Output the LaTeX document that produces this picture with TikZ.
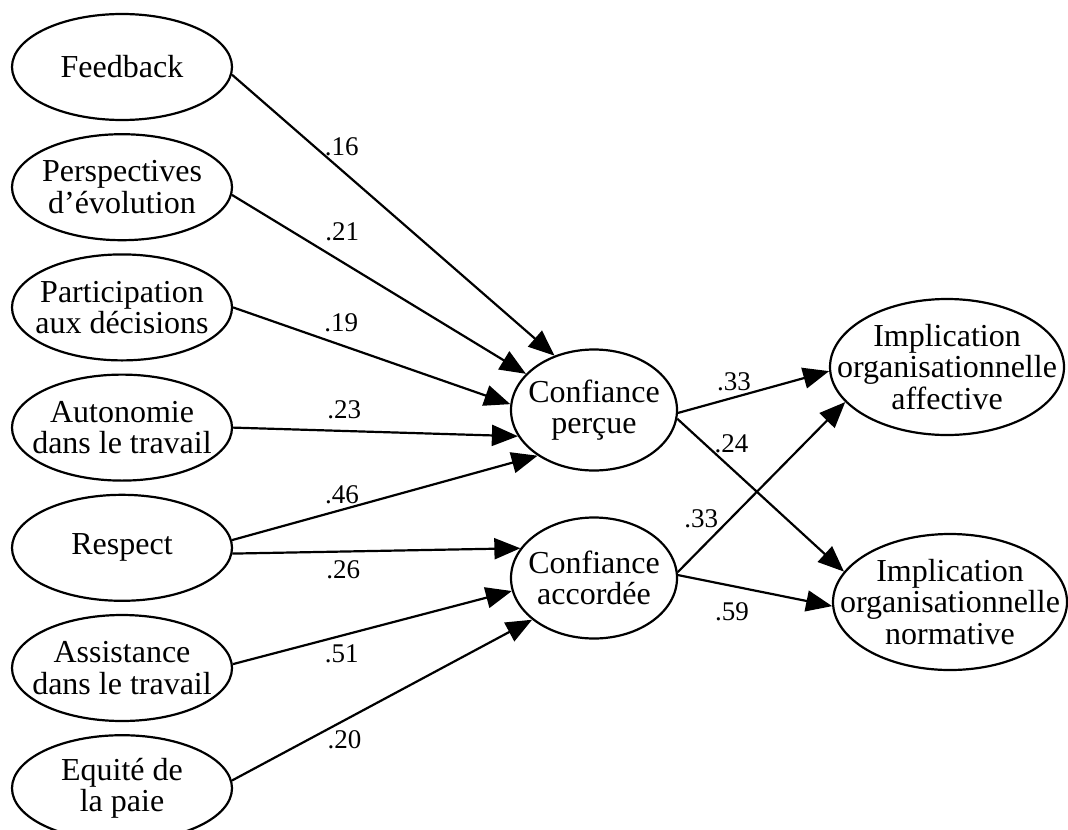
\documentclass[tikz,border=0pt]{standalone}
\usepackage{fontspec}
\setmainfont{Liberation Serif}
\usetikzlibrary{arrows.meta,positioning,shapes.geometric}

\begin{document}
\begin{tikzpicture}[
            x=0.5pt, y=-0.5pt,
            node distance=6pt,
            factor/.style={
                draw,
                ellipse,
                line width=1.1pt,
                inner sep=0pt,
                minimum width=110pt,
                minimum height=53pt
            },
            trust/.style={
                factor,
                minimum width=83pt,
                minimum height=60.5pt
            },
            commit/.style={
                factor,
                minimum width=117pt,
                minimum height=68pt
            },
            txt/.style={align=center, inner sep=0pt, font=\fontsize{16}{15.8}\selectfont},
            wt/.style={inner sep=0pt, font=\fontsize{13.5}{15}\selectfont},
            flow/.style={-{Triangle[length=13pt,width=10.5pt]}, line width=1.1pt}
        ]

            \useasboundingbox (0,0) rectangle (1068,829);

            \node[factor, label={[txt]center:Feedback}] (feedback) at (122,67) {};
            \node[factor, below=of feedback,
                label={[txt]center:{Perspectives\\d’évolution}}] (perspectives) {};
            \node[factor, below=of perspectives,
                label={[txt]center:{Participation\\aux décisions}}] (participation) {};
            \node[factor, below=of participation,
                label={[txt]center:{Autonomie\\dans le travail}}] (autonomie) {};
            \node[factor, below=of autonomie,
                label={[txt]center:Respect}] (respect) {};
            \node[factor, below=of respect,
                label={[txt]center:{Assistance\\dans le travail}}] (assistance) {};
            \node[factor, below=of assistance,
                label={[txt]center:{Equité de\\la paie}}] (equite) {};

            \node[trust, label={[txt]center:{Confiance\\perçue}}]
                (percue) at (594,410) {};
            \node[trust, label={[txt]center:{Confiance\\accordée}}]
                (accordee) at (594,578) {};

            \node[commit, label={[txt]center:{Implication\\organisationnelle\\affective}}]
                (affective) at (947,367) {};
            \node[commit, label={[txt]center:{Implication\\organisationnelle\\normative}}]
                (normative) at (950,602) {};

            \draw[flow]
                (feedback.-4) -- node[wt, pos=0.34, yshift=11.5pt] {.16} (percue.126.5);
            \draw[flow]
                (perspectives.-4) -- node[wt, pos=0.375, yshift=15.3pt] {.21} (percue.152);
            \draw[flow]
                (participation.0) -- node[wt, pos=0.39, yshift=11.3pt] {.19} (percue.176);
            \draw[flow]
                (autonomie.0) -- node[wt, pos=0.39, yshift=10.4pt] {.23} (percue.199);
            \draw[flow]
                (respect.4) -- node[wt, pos=0.36, yshift=7.4pt] {.46} (percue.219);
            \draw[flow]
                (respect.-3) -- node[wt, pos=0.385, yshift=-9.3pt] {.26} (accordee.158);
            \draw[flow]
                (assistance.2) -- node[wt, pos=0.39, yshift=-8.9pt] {.51} (accordee.189);
            \draw[flow]
                (equite.4) -- node[wt, pos=0.375, yshift=-9.7pt] {.20} (accordee.214);

            \draw[flow]
                (percue.-2) -- node[wt, pos=0.37, yshift=8pt] {.33} (affective.182);
            \draw[flow]
                (percue.-6) -- node[wt, pos=0.325, yshift=12.5pt] {.24} (normative.164.5);
            \draw[flow]
                (accordee.4) -- node[wt, pos=0.14, yshift=14.6pt] {.33} (affective.199);
            \draw[flow]
                (accordee.2) -- node[wt, pos=0.35, yshift=-13pt] {.59} (normative.182.5);

        \end{tikzpicture}
\end{document}
